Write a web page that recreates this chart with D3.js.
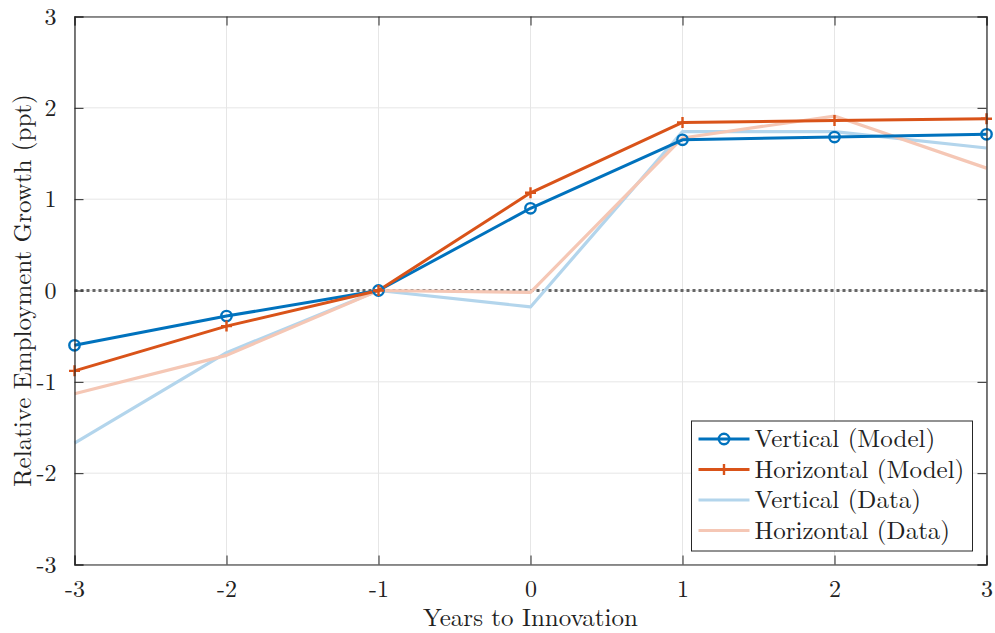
<!DOCTYPE html>
<html>
<head>
<meta charset="utf-8">
<script src="https://cdn.jsdelivr.net/npm/d3@7"></script>
<style>
  html, body { margin: 0; padding: 0; background: #fff; }
  svg text { font-family: "Latin Modern Roman", "CMU Serif", "DejaVu Serif", serif; fill: #222; }
</style>
</head>
<body>
<svg id="chart" width="995" height="633"></svg>
<script>
// Event-time axis and tick values
const years = [-3, -2, -1, 0, 1, 2, 3];
const yTicks = [-3, -2, -1, 0, 1, 2, 3];

// Relative employment growth (ppt) by series
const verticalModel   = [-0.60, -0.28, 0.00, 0.90, 1.65, 1.68, 1.71];
const horizontalModel = [-0.88, -0.39, 0.00, 1.07, 1.84, 1.86, 1.88];
const verticalData    = [-1.67, -0.68, 0.00, -0.18, 1.74, 1.74, 1.56];
const horizontalData  = [-1.13, -0.71, 0.00, -0.02, 1.67, 1.91, 1.34];

const seriesNames = ["Vertical (Model)", "Horizontal (Model)", "Vertical (Data)", "Horizontal (Data)"];

const series = [
  { name: seriesNames[2], values: verticalData,    color: "#b3d5ec", width: 3.2, marker: null },
  { name: seriesNames[3], values: horizontalData,  color: "#f5c7b5", width: 3.2, marker: null },
  { name: seriesNames[0], values: verticalModel,   color: "#0072bd", width: 3,   marker: "circle" },
  { name: seriesNames[1], values: horizontalModel, color: "#d95319", width: 3,   marker: "plus" }
];

const svg = d3.select("#chart");
const margin = { left: 74.5, top: 16.5, right: 995 - 986.5, bottom: 633 - 564.5 };
const W = 995 - margin.left - margin.right;
const H = 633 - margin.top - margin.bottom;

const x = d3.scaleLinear().domain([-3, 3]).range([0, W]);
const y = d3.scaleLinear().domain([-3, 3]).range([H, 0]);

const g = svg.append("g").attr("transform", `translate(${margin.left},${margin.top})`);

// Grid
g.append("g").selectAll("line.vg").data(years).join("line")
  .attr("x1", d => x(d)).attr("x2", d => x(d)).attr("y1", 0).attr("y2", H)
  .attr("stroke", "#e6e6e6").attr("stroke-width", 1);
g.append("g").selectAll("line.hg").data(yTicks).join("line")
  .attr("y1", d => y(d)).attr("y2", d => y(d)).attr("x1", 0).attr("x2", W)
  .attr("stroke", "#e6e6e6").attr("stroke-width", 1);

// Axes (ticks point inward, box on all four sides); plain hyphen for negatives
const fmt = d => String(d);
const tickLen = 9;
const bottomAxis = d3.axisBottom(x).tickValues(years).tickFormat(fmt).tickSize(-tickLen).tickPadding(tickLen + 6);
const leftAxis = d3.axisLeft(y).tickValues(yTicks).tickFormat(fmt).tickSize(-tickLen).tickPadding(tickLen + 9);
const topAxis = d3.axisTop(x).tickValues(years).tickFormat("").tickSize(-tickLen);
const rightAxis = d3.axisRight(y).tickValues(yTicks).tickFormat("").tickSize(-tickLen);

function styleAxis(sel) {
  sel.select(".domain").attr("stroke", "#262626").attr("stroke-width", 1.2);
  sel.selectAll(".tick line").attr("stroke", "#262626").attr("stroke-width", 1);
  sel.selectAll(".tick text").style("font-size", "24px").attr("fill", "#222");
}

// Zero reference line
g.append("line")
  .attr("x1", 0).attr("x2", W).attr("y1", y(0)).attr("y2", y(0))
  .attr("stroke", "#666").attr("stroke-width", 3).attr("stroke-dasharray", "3,3");

// Series lines
const line = d3.line().x((d, i) => x(years[i])).y(d => y(d));
series.forEach(s => {
  g.append("path").datum(s.values)
    .attr("d", line).attr("fill", "none")
    .attr("stroke", s.color).attr("stroke-width", s.width)
    .attr("stroke-linejoin", "round");
});

// Markers
function drawMarker(sel, type, color, cx, cy) {
  if (type === "circle") {
    sel.append("circle").attr("cx", cx).attr("cy", cy).attr("r", 5.2)
      .attr("fill", "none").attr("stroke", color).attr("stroke-width", 2.4);
  } else if (type === "plus") {
    sel.append("path").attr("d", `M${cx - 5.5},${cy}H${cx + 5.5}M${cx},${cy - 5.5}V${cy + 5.5}`)
      .attr("stroke", color).attr("stroke-width", 2.4).attr("fill", "none");
  }
}
series.filter(s => s.marker).forEach(s => {
  const mg = g.append("g");
  s.values.forEach((v, i) => drawMarker(mg, s.marker, s.color, x(years[i]), y(v)));
});

// Axis groups drawn above the data
g.append("g").attr("transform", `translate(0,${H})`).call(bottomAxis).call(styleAxis);
g.append("g").call(leftAxis).call(styleAxis);
g.append("g").call(topAxis).call(styleAxis);
g.append("g").attr("transform", `translate(${W},0)`).call(rightAxis).call(styleAxis);
g.selectAll(".tick text").attr("font-family", null);

// Axis labels
svg.append("text")
  .attr("x", margin.left + W / 2).attr("y", 626)
  .attr("text-anchor", "middle").style("font-size", "25px")
  .text("Years to Innovation");
svg.append("text")
  .attr("transform", `translate(31,${margin.top + H / 2}) rotate(-90)`)
  .attr("text-anchor", "middle").style("font-size", "25px")
  .text("Relative Employment Growth (ppt)");

// Legend
const legendOrder = [series[2], series[3], series[0], series[1]];
const lg = svg.append("g").attr("transform", "translate(691.5,421)");
lg.append("rect").attr("width", 281).attr("height", 130)
  .attr("fill", "#fff").attr("stroke", "#262626").attr("stroke-width", 1);
legendOrder.forEach((s, i) => {
  const cy = 18 + i * 30.5;
  lg.append("line").attr("x1", 7).attr("x2", 58).attr("y1", cy).attr("y2", cy)
    .attr("stroke", s.color).attr("stroke-width", s.width);
  if (s.marker) drawMarker(lg, s.marker, s.color, 32.5, cy);
  lg.append("text").attr("x", 63).attr("y", cy + 8)
    .style("font-size", "25px").text(s.name);
});
</script>
</body>
</html>
